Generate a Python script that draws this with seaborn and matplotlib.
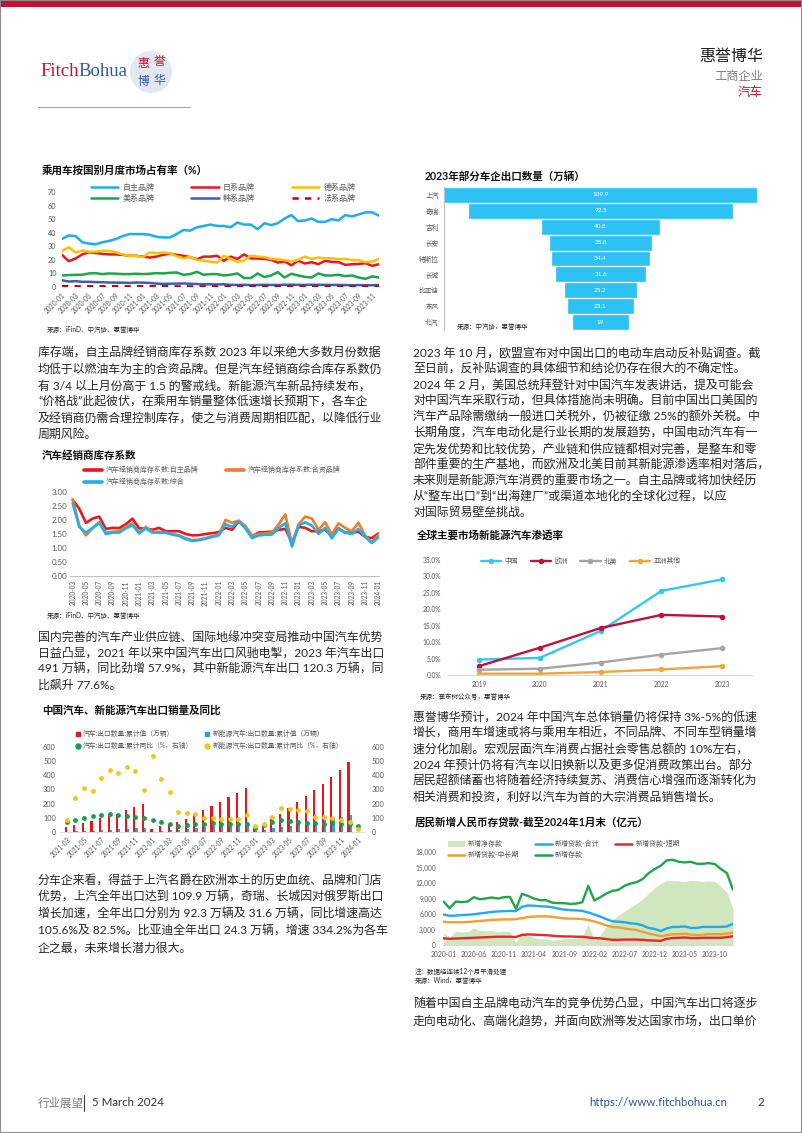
import numpy as np
import pandas as pd
import matplotlib
matplotlib.use("Agg")
import matplotlib.pyplot as plt
from matplotlib.lines import Line2D
from matplotlib.patches import Rectangle, Ellipse, Patch
from matplotlib.ticker import FuncFormatter
import seaborn as sns

# ---------------- data ----------------
# 乘用车按国别月度市场占有率 (%), 2020-01 .. 2023-12
share_months = pd.date_range("2020-01", "2023-12", freq="MS").strftime("%Y-%m").tolist()
share_domestic = [35.4, 38, 37.5, 33, 32, 31.5, 33, 34, 35.4, 37.5, 39, 39,
                  39, 38.5, 37, 36.5, 36.5, 39, 42, 41.5, 44, 45, 46, 45,
                  45, 44, 47.5, 46, 46, 42.5, 47, 45.6, 47, 50.5, 53, 48.5,
                  49, 50.5, 48, 48, 50, 49, 53, 52, 53.5, 55, 55, 52.5]
share_japan = [23.7, 19, 21, 24, 25.6, 25, 24.4, 24, 24, 23.7, 23, 23,
               22.4, 21.7, 22.4, 23.7, 24.6, 23.7, 23, 22, 20.5, 22.4, 22.4, 23,
               19.3, 22.4, 20.7, 24, 21, 21, 20.7, 20, 18, 18.8, 16, 19.3,
               17.3, 18.3, 16.8, 19.3, 18.5, 18.3, 16.3, 16.8, 17, 17.5, 15.6, 16.8]
share_germany = [26.5, 29.3, 25.4, 26.8, 26, 26, 26.8, 26.5, 25.6, 24, 23, 23,
                 22, 25.4, 24.9, 25.4, 24.9, 22.7, 21.2, 22.2, 20, 19.3, 18.8, 18,
                 23, 20.7, 18.5, 19.5, 23, 22.4, 22, 20.7, 20.5, 19.8, 18.8, 20,
                 22.4, 20.7, 21.7, 21.2, 21.2, 20.5, 20.7, 19.8, 19.8, 18.3, 18.8, 20.7]
share_us = [8.5, 8.8, 9, 9, 10, 10.2, 9.5, 10, 9.8, 9.5, 9.5, 9.8,
            9.5, 9.8, 10.2, 10, 10.5, 10.7, 9, 9.5, 11.2, 9, 9.5, 9.5,
            8.5, 9, 10, 6.6, 6.6, 10, 7.3, 8.5, 11, 7, 9.8, 8.5,
            7.5, 7, 10, 8.5, 8.5, 9, 8, 8.5, 7, 6, 7.8, 7]
share_korea = [5.0, 4.0, 4.3, 3.8, 3.8, 3.6, 3.5, 3.3, 3.2, 3.2, 3.0, 3.3,
               3.2, 3.0, 2.5, 2.3, 2.4, 2.5, 2.6, 2.4, 2.2, 2.0, 2.0, 1.9,
               2.0, 1.6, 1.5, 1.6, 1.4, 1.5, 1.6, 1.5, 1.5, 1.6, 1.7, 1.6,
               1.5, 1.7, 1.6, 1.6, 1.5, 1.5, 1.4, 1.3, 1.4, 1.3, 1.3, 1.5]
share_france = [0.6, 0.5, 0.5, 0.5, 0.5, 0.5, 0.5, 0.5, 0.5, 0.5, 0.5, 0.5,
                0.5, 0.5, 0.5, 0.5, 0.5, 0.4, 0.4, 0.4, 0.4, 0.4, 0.4, 0.4,
                0.4, 0.4, 0.4, 0.4, 0.4, 0.4, 0.4, 0.4, 0.4, 0.4, 0.4, 0.4,
                0.3, 0.3, 0.3, 0.3, 0.3, 0.3, 0.3, 0.3, 0.3, 0.3, 0.3, 0.3]

# 2023年部分车企出口数量 (万辆)
funnel_makers = ["上汽", "奇瑞", "吉利", "长安", "特斯拉", "长城", "比亚迪", "东风", "北汽"]
funnel_values = [109.9, 92.5, 40.8, 35.8, 34.4, 31.6, 25.2, 23.1, 19]

# 汽车经销商库存系数, 2020-03 .. 2024-01
inv_months = pd.date_range("2020-03", "2024-01", freq="MS").strftime("%Y-%m").tolist()
inv_domestic = [2.72, 2.4, 1.9, 2.05, 2.12, 1.68, 1.72, 1.71, 1.85, 2.05,
                1.7, 1.7, 1.65, 1.72, 1.6, 1.6, 1.6, 1.5, 1.45, 1.46,
                1.5, 1.53, 1.57, 1.72, 1.65, 1.95, 1.75, 1.42, 1.55, 1.57,
                1.58, 1.65, 1.68, 1.2, 1.75, 1.72, 1.6, 1.6, 1.65, 1.42,
                1.7, 1.55, 1.55, 1.58, 1.4, 1.35, 1.52]
inv_jv = [2.75, 1.8, 1.45, 1.7, 1.92, 1.55, 1.58, 1.6, 1.75, 1.88,
          1.55, 1.75, 1.58, 1.58, 1.55, 1.5, 1.45, 1.35, 1.28, 1.3,
          1.35, 1.42, 1.48, 2.0, 1.9, 1.98, 1.78, 1.45, 1.5, 1.52,
          1.55, 1.85, 2.2, 1.15, 1.85, 2.12, 2.05, 1.65, 1.92, 1.48,
          1.88, 1.72, 1.6, 1.9, 1.45, 1.2, 1.48]
inv_total = [2.6, 1.75, 1.55, 1.72, 1.9, 1.5, 1.55, 1.55, 1.7, 1.82,
             1.52, 1.7, 1.55, 1.55, 1.55, 1.48, 1.43, 1.32, 1.25, 1.28,
             1.33, 1.4, 1.45, 1.85, 1.75, 1.95, 1.7, 1.35, 1.45, 1.47,
             1.48, 1.72, 1.88, 1.05, 1.8, 1.92, 1.8, 1.5, 1.72, 1.35,
             1.68, 1.55, 1.5, 1.68, 1.4, 1.18, 1.38]

# 全球主要市场新能源汽车渗透率 (%)
pen_years = [2019, 2020, 2021, 2022, 2023]
pen_china = [4.7, 5.2, 13.4, 25.6, 29.1]
pen_europe = [2.7, 8.3, 14.3, 18.3, 17.8]
pen_na = [1.6, 1.9, 3.8, 6.2, 8.2]
pen_asia = [0.4, 0.4, 0.9, 1.7, 2.7]

# 中国汽车、新能源汽车出口销量及同比, 2021-03 .. 2024-01
exp_months = pd.date_range("2021-03", "2024-01", freq="MS").strftime("%Y-%m").tolist()
exp_cars_cum = [33, 49, 67, 80, 97, 112, 130, 152, 177, 201,
                19, 40, 55, 71, 95, 125, 154, 185, 213, 244, 272, 308,
                25, 45, 95, 130, 170, 214, 254, 294, 338, 390, 440, 491,
                np.nan]
exp_nev_cum = [3.4, 5.2, 7.5, 10, 13.6, 16.5, 19.7, 23.5, 27.3, 31.0,
               3.3, 6.8, 11.2, 15, 20.3, 25.9, 33, 40, 45.8, 53.3, 60.7, 67.9,
               5.8, 15, 24.8, 33.9, 43.4, 53.4, 63.6, 73.1, 82.5, 92.2, 103.2, 120.3,
               np.nan]
exp_cars_yoy = [71, 83, 102, 111, 118, 125, 118, 114, 107, 100,
                83, 71, 55, 40, 47, 57, 59, 62, 59, 57, 55, 55,
                31, 52, 71, 83, 76, 71, 66, 62, 59, 62, 59, 55,
                43]
exp_nev_yoy = [88, 242, 308, 292, 379, 438, 415, 462, 431, 299,
               536, 374, 284, 142, 137, 125, 97, 97, 95, 95, 95, 118,
               43, 59, 107, 166, 159, 156, 147, 107, 104, 100, 83, 71,
               21]

# 居民新增人民币存贷款 (亿元), 2020-01 .. 2024-01
dep_months = pd.date_range("2020-01", "2024-01", freq="MS").strftime("%Y-%m").tolist()
dep_new = [8400, 7100, 8400, 8300, 8400, 9250, 8860, 9000, 9200, 9000, 9250, 9300,
           7000, 9900, 9500, 9000, 8670, 8670, 8200, 8100, 8100, 7960, 8020, 8280,
           11450, 8600, 9250, 9960, 10480, 10680, 11450, 11900, 12160, 12750, 13900, 14690,
           15330, 16370, 16500, 16110, 15980, 16110, 15720, 15720, 15850, 15660, 14690, 13900,
           10680]
loan_total = [5900, 5650, 5700, 5800, 5850, 5950, 6100, 6250, 6400, 6500, 6550, 6600,
              6550, 7400, 7650, 7600, 7500, 7450, 7300, 7050, 6850, 6750, 6700, 6600,
              6300, 5900, 5500, 5000, 4600, 4500, 4400, 4200, 4100, 3800, 3300, 3100,
              2700, 3200, 3500, 3500, 3600, 3300, 3300, 3500, 3500, 3500, 3500, 3600,
              4100]
loan_long = [4500, 4400, 4400, 4400, 4450, 4550, 4650, 4750, 4850, 4900, 4950, 4950,
             5000, 5200, 5400, 5500, 5550, 5550, 5450, 5300, 5150, 5100, 5100, 5000,
             4850, 4550, 4200, 3800, 3500, 3400, 3200, 3050, 2900, 2550, 2200, 2000,
             1700, 1900, 2100, 2100, 2200, 2000, 1900, 2000, 2100, 2100, 2100, 2200,
             2400]
loan_short = [1300, 1200, 1250, 1300, 1350, 1400, 1450, 1500, 1550, 1600, 1600, 1600,
              1550, 1950, 2050, 2000, 1950, 1900, 1800, 1700, 1650, 1650, 1600, 1600,
              1450, 1350, 1300, 1150, 1000, 1000, 1050, 1050, 1050, 1000, 900, 850,
              800, 1200, 1350, 1400, 1450, 1350, 1350, 1400, 1400, 1400, 1400, 1500,
              1700]
dep_net = [2400, 1500, 2700, 2500, 2600, 3300, 2800, 2750, 2800, 2500, 2700, 2700,
           450, 2500, 1850, 1400, 1200, 1200, 900, 1050, 1250, 1200, 1300, 1700,
           4200, 800, 2000, 3600, 4800, 5800, 6500, 7300, 8000, 8900, 10000, 11000,
           11900, 12500, 12500, 12400, 12300, 12500, 12400, 12300, 12400, 12300, 11300, 10200,
           7000]

# ---------------- page text ----------------
para_l1 = ["库存端，自主品牌经销商库存系数 2023 年以来绝大多数月份数据",
           "均低于以燃油车为主的合资品牌。但是汽车经销商综合库存系数仍",
           "有 3/4 以上月份高于 1.5 的警戒线。新能源汽车新品持续发布，",
           "“价格战”此起彼伏，在乘用车销量整体低速增长预期下，各车企",
           "及经销商仍需合理控制库存，使之与消费周期相匹配，以降低行业",
           "周期风险。"]
para_l2 = ["国内完善的汽车产业供应链、国际地缘冲突变局推动中国汽车优势",
           "日益凸显，2021 年以来中国汽车出口风驰电掣，2023 年汽车出口",
           "491 万辆，同比劲增 57.9%，其中新能源汽车出口 120.3 万辆，同",
           "比飙升 77.6%。"]
para_l3 = ["分车企来看，得益于上汽名爵在欧洲本土的历史血统、品牌和门店",
           "优势，上汽全年出口达到 109.9 万辆，奇瑞、长城因对俄罗斯出口",
           "增长加速，全年出口分别为 92.3 万辆及 31.6 万辆，同比增速高达",
           "105.6%及 82.5%。比亚迪全年出口 24.3 万辆，增速 334.2%为各车",
           "企之最，未来增长潜力很大。"]
para_r1 = ["2023 年 10 月，欧盟宣布对中国出口的电动车启动反补贴调查。截",
           "至日前，反补贴调查的具体细节和结论仍存在很大的不确定性。",
           "2024 年 2 月，美国总统拜登针对中国汽车发表讲话，提及可能会",
           "对中国汽车采取行动，但具体措施尚未明确。目前中国出口美国的",
           "汽车产品除需缴纳一般进口关税外，仍被征缴 25%的额外关税。中",
           "长期角度，汽车电动化是行业长期的发展趋势，中国电动汽车有一",
           "定先发优势和比较优势，产业链和供应链都相对完善，是整车和零",
           "部件重要的生产基地，而欧洲及北美目前其新能源渗透率相对落后，",
           "未来则是新能源汽车消费的重要市场之一。自主品牌或将加快经历",
           "从“整车出口”到“出海建厂”或渠道本地化的全球化过程，以应",
           "对国际贸易壁垒挑战。"]
para_r2 = ["惠誉博华预计，2024 年中国汽车总体销量仍将保持 3%-5%的低速",
           "增长，商用车增速或将与乘用车相近，不同品牌、不同车型销量增",
           "速分化加剧。宏观层面汽车消费占据社会零售总额的 10%左右，",
           "2024 年预计仍将有汽车以旧换新以及更多促消费政策出台。部分",
           "居民超额储蓄也将随着经济持续复苏、消费信心增强而逐渐转化为",
           "相关消费和投资，利好以汽车为首的大宗消费品销售增长。"]
para_r3 = ["随着中国自主品牌电动汽车的竞争优势凸显，中国汽车出口将逐步",
           "走向电动化、高端化趋势，并面向欧洲等发达国家市场，出口单价"]

# ---------------- setup ----------------
W, H = 802, 1133
sns.set_theme(style="white")
plt.rcParams["font.family"] = ["Lato", "Noto Sans CJK SC", "DejaVu Sans"]
plt.rcParams["axes.unicode_minus"] = False

CRIMSON = "#c8102e"
NAVY = "#2e5a9c"
TICK = "#595959"
BODY = "#262626"

fig = plt.figure(figsize=(W / 100, H / 100), dpi=100)
fig.patch.set_facecolor("white")


def fx(x):
    return x / W


def fy(y):
    return 1 - y / H


def box(x0, y0, x1, y1):
    return fig.add_axes([x0 / W, 1 - y1 / H, (x1 - x0) / W, (y1 - y0) / H])


def put(x, y, s, size=8.6, color=BODY, **kw):
    kw.setdefault("va", "center")
    return fig.text(fx(x), fy(y), s, fontsize=size, color=color, **kw)


def para(x, y0, lines, step):
    for k, s in enumerate(lines):
        put(x, y0 + k * step, s)


def clean(ax, size=5.0):
    for s in ax.spines.values():
        s.set_visible(False)
    ax.tick_params(length=0, labelsize=size, colors=TICK, pad=2)
    ax.set_xlabel("")
    ax.set_ylabel("")
    ax.set_facecolor("none")
    ax.grid(False)


def legend_at(ax, handles, labels, x, y, **kw):
    opts = dict(loc="upper left", bbox_to_anchor=(fx(x), fy(y)), bbox_transform=fig.transFigure,
                frameon=False, fontsize=5.0, borderpad=0, borderaxespad=0, handletextpad=0.5)
    opts.update(kw)
    leg = ax.legend(handles, labels, **opts)
    for t in leg.get_texts():
        t.set_color(TICK)
    return leg


# ---------------- page furniture ----------------
fig.add_artist(Rectangle((0, fy(7)), 1, 7 / H, transform=fig.transFigure, color=CRIMSON, lw=0))
fig.add_artist(Rectangle((0, 0), 1, 1, transform=fig.transFigure, fill=False, edgecolor="#8c8c8c", lw=1.5))

r = fig.canvas.get_renderer()
t1 = put(40, 72, "Fitch", size=13.5, color=CRIMSON, family=["Liberation Serif"])
bb = t1.get_window_extent(renderer=r)
fig.text(bb.x1 / W, fy(72), "Bohua", fontsize=13.5, color=NAVY, family=["Liberation Serif"], va="center")
fig.add_artist(Ellipse((fx(151), fy(72)), 42 / W, 42 / H, transform=fig.transFigure,
                       facecolor="#e2e7f1", edgecolor="none"))
put(143, 63, "惠", size=8.5, color=CRIMSON, ha="center")
put(159, 62, "誉", size=8.5, color=CRIMSON, ha="center")
put(143, 81, "博", size=8.5, color=NAVY, ha="center")
put(159, 80, "华", size=8.5, color=NAVY, ha="center")
fig.add_artist(Line2D([fx(38), fx(190)], [fy(107), fy(107)], transform=fig.transFigure,
                      color="#a6a6a6", lw=0.8))

put(763, 57, "惠誉博华", size=11.5, color="#1a1a1a", ha="right")
put(763, 76, "工商企业", size=8.8, color="#7f7f7f", ha="right")
put(763, 92, "汽车", size=9, color=CRIMSON, ha="right")

put(38, 1103, "行业展望", size=8.3, color="#7f7f7f")
fig.add_artist(Line2D([fx(84), fx(84)], [fy(1095), fy(1111)], transform=fig.transFigure,
                      color="#404040", lw=0.8))
put(92, 1103, "5 March 2024", size=8.3, color="#333333")
put(727, 1103, "https://www.fitchbohua.cn", size=8.3, color="#2f5597", ha="right")
put(761, 1103, "2", size=8.3, color="#333333", ha="center")

# ---------------- body text ----------------
para(38, 353, para_l1, 16.3)
para(38, 637, para_l2, 16.0)
para(38, 880, para_l3, 16.8)
para(413, 353, para_r1, 15.9)
para(413, 717, para_r2, 16.0)
para(413, 1003, para_r3, 17.5)

# ---------------- chart 1: market share ----------------
put(42, 170, "乘用车按国别月度市场占有率（%）", size=7.6, color="#111111", fontweight="bold")
ax1 = box(62, 192, 379, 287)
x1 = np.arange(len(share_months))
series1 = [("自主品牌", share_domestic, "#1fadea", "-"),
           ("日系品牌", share_japan, "#e8171f", "-"),
           ("德系品牌", share_germany, "#ffc000", "-"),
           ("美系品牌", share_us, "#1ca64a", "-"),
           ("韩系品牌", share_korea, "#3a5fad", "-"),
           ("法系品牌", share_france, "#c00000", (0, (2.5, 2.5)))]
for name, vals, c, ls in series1:
    sns.lineplot(x=x1, y=vals, ax=ax1, color=c, linewidth=1.8, linestyle=ls, label=name)
ax1.set_xlim(0, len(share_months) - 1)
ax1.set_ylim(0, 70)
ax1.set_yticks(range(0, 71, 10))
ax1.set_xticks(x1[::2])
ax1.set_xticklabels(share_months[::2], rotation=45, ha="right", rotation_mode="anchor")
clean(ax1, 5.2)
ax1.tick_params(axis="x", labelsize=4.8, pad=3)
ax1.tick_params(axis="y", pad=4)
h, l = ax1.get_legend_handles_labels()
order = [0, 3, 1, 4, 2, 5]
legend_at(ax1, [h[i] for i in order], [l[i] for i in order], 91, 183, ncol=3, fontsize=5.8,
          handlelength=3.4, columnspacing=4.6, labelspacing=0.35)
put(47, 329, "来源：iFinD、中汽协、惠誉博华", size=4.7)

# ---------------- chart 2: funnel ----------------
put(425, 176, "2023年部分车企出口数量（万辆）", size=7.6, color="#111111", fontweight="bold")
axf = box(444, 187, 757, 330)
half = [v / 2 for v in funnel_values]
neg_half = [-v / 2 for v in funnel_values]
bar_c = "#2ec2f4"
sns.barplot(x=half, y=funnel_makers, orient="h", color=bar_c, saturation=1, width=0.88,
            edgecolor=bar_c, linewidth=0.5, ax=axf)
sns.barplot(x=neg_half, y=funnel_makers, orient="h", color=bar_c, saturation=1, width=0.88,
            edgecolor=bar_c, linewidth=0.5, ax=axf)
for i, v in enumerate(funnel_values):
    axf.text(0, i, f"{v:g}", ha="center", va="center", color="white", fontsize=4.6)
axf.set_xlim(-max(funnel_values) / 2, max(funnel_values) / 2)
axf.set_ylim(len(funnel_makers) - 0.5, -0.5)
clean(axf, 4.8)
axf.set_xticks([])
axf.spines["left"].set_visible(True)
axf.spines["left"].set_color("#bfbfbf")
axf.spines["left"].set_linewidth(0.8)
axf.tick_params(axis="y", pad=4)
put(457, 327, "来源：中汽协，惠誉博华", size=4.7)

# ---------------- chart 3: dealer inventory ----------------
put(42, 455, "汽车经销商库存系数", size=7.6, color="#111111", fontweight="bold")
ax3 = box(70, 492, 379, 576)
x3 = np.arange(len(inv_months))
series3 = [("汽车经销商库存系数:自主品牌", inv_domestic, "#e8171f"),
           ("汽车经销商库存系数:合资品牌", inv_jv, "#ed7d31"),
           ("汽车经销商库存系数:综合", inv_total, "#1fb0ea")]
for name, vals, c in series3:
    sns.lineplot(x=x3, y=vals, ax=ax3, color=c, linewidth=1.9, label=name)
ax3.set_xlim(-0.4, len(inv_months) - 0.9)
ax3.set_ylim(0, 3)
ax3.set_yticks(np.arange(0, 3.01, 0.5))
ax3.yaxis.set_major_formatter(FuncFormatter(lambda v, p: f"{v:.2f}"))
ax3.set_xticks(x3[::2])
ax3.set_xticklabels(inv_months[::2], rotation=90, ha="center", va="top")
clean(ax3, 5.8)
ax3.tick_params(axis="x", labelsize=4.7, pad=3)
ax3.spines["bottom"].set_visible(True)
ax3.spines["bottom"].set_color("#bfbfbf")
ax3.spines["bottom"].set_linewidth(0.8)
h, l = ax3.get_legend_handles_labels()
order = [0, 2, 1]
legend_at(ax3, [h[i] for i in order], [l[i] for i in order], 84, 466, ncol=2, fontsize=5.0,
          handlelength=2.6, columnspacing=4.0, labelspacing=0.6)
for line in ax3.get_legend().get_lines():
    line.set_linewidth(2.6)
put(47, 615, "来源：iFinD、中汽协、惠誉博华", size=4.7)

# ---------------- chart 4: NEV penetration ----------------
put(417, 535, "全球主要市场新能源汽车渗透率", size=7.6, color="#111111", fontweight="bold")
ax4 = box(448, 560, 752, 675)
series4 = [("中国", pen_china, "#33c7f1"),
           ("欧洲", pen_europe, "#c0113b"),
           ("北美", pen_na, "#a5a5a5"),
           ("亚洲其他", pen_asia, "#f0a541")]
for name, vals, c in series4:
    sns.lineplot(x=pen_years, y=vals, ax=ax4, color=c, linewidth=1.7, marker="o",
                 markersize=4, markeredgewidth=0, label=name)
ax4.set_xlim(pen_years[0] - 0.51, pen_years[-1] + 0.49)
ax4.set_ylim(0, 35)
ax4.set_yticks(range(0, 36, 5))
ax4.yaxis.set_major_formatter(FuncFormatter(lambda v, p: f"{v:.1f}%"))
ax4.set_xticks(pen_years)
ax4.set_xticklabels([str(y) for y in pen_years])
clean(ax4, 4.8)
ax4.tick_params(axis="x", pad=4)
ax4.tick_params(axis="y", pad=5)
ax4.spines["bottom"].set_visible(True)
ax4.spines["bottom"].set_color("#d9d9d9")
ax4.spines["bottom"].set_linewidth(0.8)
h, l = ax4.get_legend_handles_labels()
legend_at(ax4, h, l, 481, 557, ncol=4, fontsize=4.9, handlelength=3.0, columnspacing=1.8)
put(420, 696, "来源：崔东树公众号，惠誉博华", size=4.7)

# ---------------- chart 5: exports ----------------
put(42, 710, "中国汽车、新能源汽车出口销量及同比", size=7.6, color="#111111", fontweight="bold")
ax5 = box(60, 747, 365, 832)
bar_names = ["汽车:出口数量:累计值（万辆）", "新能源汽车:出口数量:累计值（万辆）"]
df5 = pd.DataFrame({
    "month": exp_months * 2,
    "series": [bar_names[0]] * len(exp_months) + [bar_names[1]] * len(exp_months),
    "value": exp_cars_cum + exp_nev_cum,
}).dropna()
sns.barplot(data=df5, x="month", y="value", hue="series", order=exp_months, hue_order=bar_names,
            palette={bar_names[0]: "#e8171f", bar_names[1]: "#2f9fe0"}, width=0.5, saturation=1,
            errorbar=None, legend=False, linewidth=0, ax=ax5)
ax5b = ax5.twinx()
idx5 = np.arange(len(exp_months))
sns.scatterplot(x=idx5, y=exp_cars_yoy, ax=ax5b, color="#10a050", s=12, linewidth=0)
sns.scatterplot(x=idx5, y=exp_nev_yoy, ax=ax5b, color="#f5c518", s=12, linewidth=0)
for a in (ax5, ax5b):
    a.set_xlim(-0.8, len(exp_months) - 0.2)
    a.set_ylim(0, 600)
    a.set_yticks(range(0, 601, 100))
    clean(a, 5.3)
ax5.set_xticks(idx5[::2])
ax5.set_xticklabels(exp_months[::2], rotation=45, ha="right", rotation_mode="anchor")
ax5.tick_params(axis="x", labelsize=4.7, pad=3)
ax5.tick_params(axis="y", pad=3)
ax5b.tick_params(axis="y", pad=5)
ax5.spines["bottom"].set_visible(True)
ax5.spines["bottom"].set_color("#d9d9d9")
ax5.spines["bottom"].set_linewidth(0.6)
h5 = [Line2D([], [], marker="s", color="#e8171f", ls="none", markersize=2.6),
      Line2D([], [], marker="o", color="#10a050", ls="none", markersize=3.6),
      Line2D([], [], marker="s", color="#2f9fe0", ls="none", markersize=2.6),
      Line2D([], [], marker="o", color="#f5c518", ls="none", markersize=3.6)]
l5 = [bar_names[0], "汽车:出口数量:累计同比（%，右轴）", bar_names[1], "新能源汽车:出口数量:累计同比（%，右轴）"]
legend_at(ax5b, h5, l5, 75, 730, ncol=2, fontsize=4.9, handlelength=0.8, handletextpad=0.4,
          columnspacing=1.6, labelspacing=0.7)

# ---------------- chart 6: deposits & loans ----------------
put(415, 822, "居民新增人民币存贷款-截至2024年1月末（亿元）", size=7.6, color="#111111", fontweight="bold")
ax6 = box(443, 852, 733, 945)
x6 = np.arange(len(dep_months))
ax6.fill_between(x6, dep_net, color="#cfe6bf", linewidth=0, zorder=1)
series6 = [("新增贷款-合计", loan_total, "#22aae8"),
           ("新增贷款-短期", loan_short, "#e8262b"),
           ("新增贷款-中长期", loan_long, "#f0a030"),
           ("新增存款", dep_new, "#1fa648")]
for name, vals, c in series6:
    sns.lineplot(x=x6, y=vals, ax=ax6, color=c, linewidth=1.7, zorder=3)
ax6.set_xlim(-0.1, len(dep_months) - 1)
ax6.set_ylim(0, 18000)
ax6.set_yticks(range(0, 18001, 3000))
ax6.yaxis.set_major_formatter(FuncFormatter(lambda v, p: f"{v:,.0f}"))
ax6.set_xticks(x6[::5])
ax6.set_xticklabels(dep_months[::5])
clean(ax6, 4.7)
ax6.tick_params(axis="x", labelsize=4.9, pad=4)
ax6.tick_params(axis="y", pad=5)
ax6.spines["bottom"].set_visible(True)
ax6.spines["bottom"].set_color("#d9d9d9")
ax6.spines["bottom"].set_linewidth(0.8)
h6 = [Patch(facecolor="#cfe6bf", edgecolor="none"),
      Line2D([], [], color="#f0a030", lw=1.8),
      Line2D([], [], color="#22aae8", lw=1.8),
      Line2D([], [], color="#1fa648", lw=1.8),
      Line2D([], [], color="#e8262b", lw=1.8)]
l6 = ["新增净存款", "新增贷款-中长期", "新增贷款-合计", "新增存款", "新增贷款-短期"]
legend_at(ax6, h6, l6, 448, 840, ncol=3, fontsize=5.0, handlelength=2.4, handleheight=0.9,
          columnspacing=2.2, labelspacing=0.55)
put(415, 971, "注：数据经连续12个月平滑处理", size=4.7)
put(415, 981, "来源：Wind，惠誉博华", size=4.7)

fig.savefig("out.png", dpi=100)
